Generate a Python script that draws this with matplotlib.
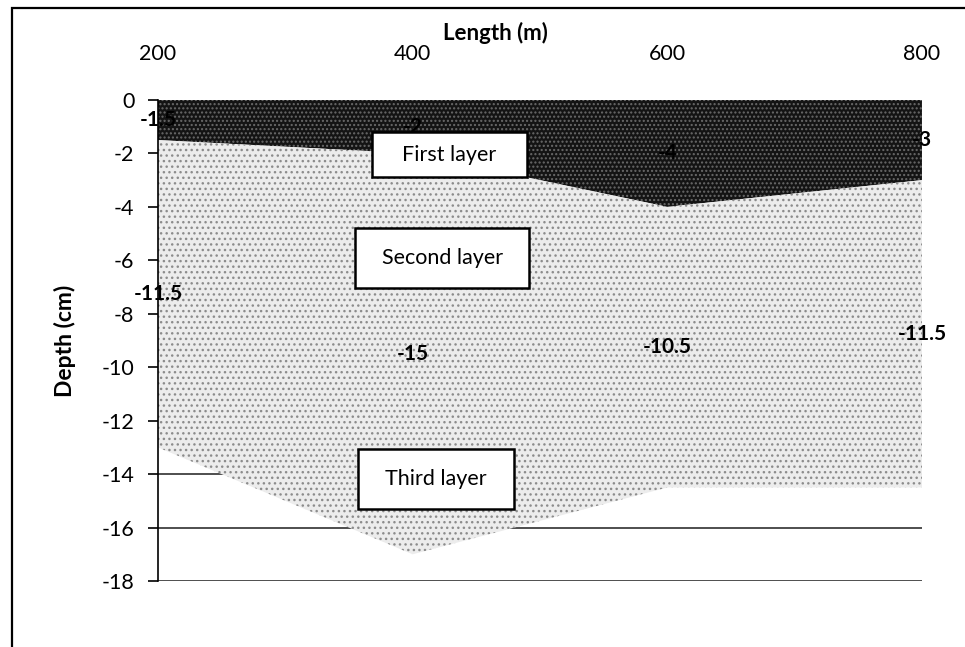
import matplotlib.pyplot as plt
from matplotlib.patches import Rectangle
import numpy as np

plt.rcParams['font.family'] = ['Lato', 'DejaVu Sans']
plt.rcParams['axes.unicode_minus'] = False
plt.rcParams['hatch.linewidth'] = 1.0

# Profile along the section
length_m = [200, 400, 600, 800]
first_layer = [-1.5, -2, -4, -3]
second_layer = [-11.5, -15, -10.5, -11.5]
x_ticks = [200, 400, 600, 800]
y_ticks = [0, -2, -4, -6, -8, -10, -12, -14, -16, -18]
layer_names = ["First layer", "Second layer", "Third layer"]

fig = plt.figure(figsize=(9.65, 6.47), dpi=100)
ax = fig.add_axes([0.1637, 0.102, 0.7917, 0.7435])

x = np.array(length_m)
top = np.zeros(len(x))
base1 = top + np.array(first_layer)
base2 = base1 + np.array(second_layer)

# stacked areas, depth goes negative
ax.fill_between(x, top, base1, facecolor='#141414', edgecolor='#6a6a6a',
                hatch='....', linewidth=0, zorder=2)
ax.fill_between(x, base1, base2, facecolor='#ececec', edgecolor='#8c8c8c',
                hatch='...', linewidth=0, zorder=2)

# value labels in the middle of each band
for xi, t, b, v in zip(x, top, base1, first_layer):
    ax.text(xi, (t + b) / 2, f'{v:g}', ha='center', va='center',
            fontsize=15, fontweight='bold', color='black', zorder=3, clip_on=False)
for xi, t, b, v in zip(x, base1, base2, second_layer):
    ax.text(xi, (t + b) / 2, f'{v:g}', ha='center', va='center',
            fontsize=15, fontweight='bold', color='black', zorder=3, clip_on=False)

# layer name boxes
boxes = [(0.280, 0.840, 0.203, 0.093),
         (0.258, 0.609, 0.228, 0.125),
         (0.262, 0.150, 0.204, 0.124)]
for name, (bx, by, bw, bh) in zip(layer_names, boxes):
    ax.add_patch(Rectangle((bx, by), bw, bh, transform=ax.transAxes,
                           facecolor='white', edgecolor='black', linewidth=1.8,
                           zorder=4))
    ax.text(bx + bw / 2, by + bh / 2, name, transform=ax.transAxes,
            ha='center', va='center', fontsize=15.5, zorder=5)

ax.set_xlim(200, 800)
ax.set_ylim(-18, 0)
ax.set_xticks(x_ticks)
ax.set_yticks(y_ticks)
ax.xaxis.tick_top()
ax.tick_params(axis='x', length=0, labelsize=15.5, pad=26)
ax.tick_params(axis='y', length=7, width=1.2, labelsize=15.5, pad=10)
ax.set_ylabel('Depth (cm)', fontsize=16.5, fontweight='bold', labelpad=18)
fig.text(495 / 965, 1 - 33 / 647, 'Length (m)', ha='center', va='center',
         fontsize=16, fontweight='bold')

for side in ['top', 'right', 'bottom']:
    ax.spines[side].set_visible(False)
ax.spines['left'].set_linewidth(1.2)

ax.yaxis.grid(True, color='#303030', linewidth=1.2, zorder=1)
ax.set_axisbelow(True)

# frame round the figure
fig.patches.append(Rectangle((0.0124, -0.1), 1.1, 1.0876, transform=fig.transFigure,
                             facecolor='none', edgecolor='black', linewidth=1.6))

fig.savefig('out.png', dpi=100)
